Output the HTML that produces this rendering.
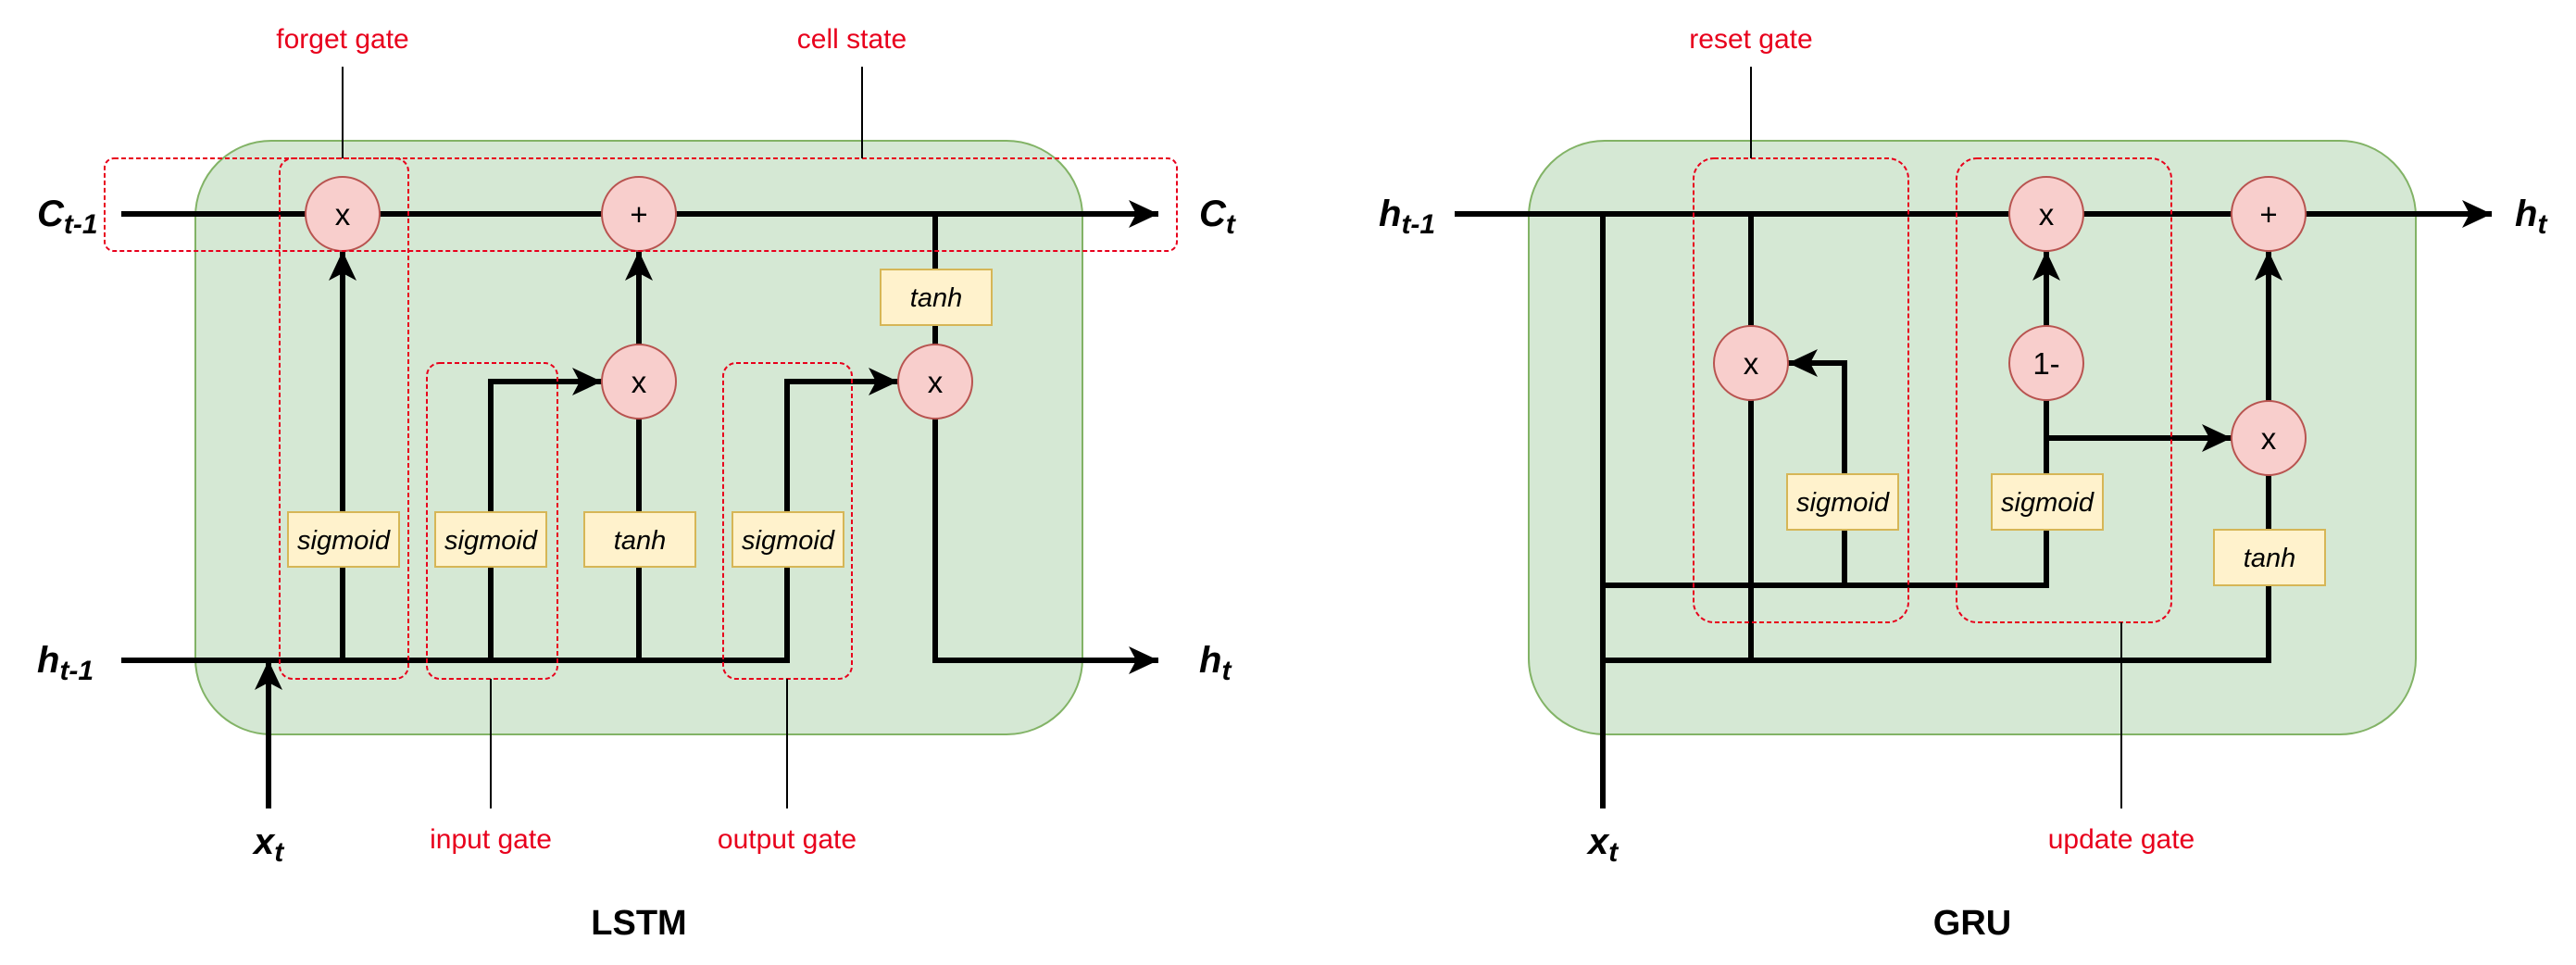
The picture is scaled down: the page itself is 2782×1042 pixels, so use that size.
<!DOCTYPE html>
<html><head><meta charset="utf-8"><style>
html,body{margin:0;padding:0;background:#fff;}
svg{display:block;}
text{font-family:"Liberation Sans",sans-serif;}
.lbl{font-size:40px;font-weight:bold;font-style:italic;fill:#000;}
.red{font-size:30px;fill:#e8001c;text-anchor:middle;}
.fn{font-size:29px;font-style:italic;text-anchor:middle;fill:#000;}
.op{font-size:33px;text-anchor:middle;fill:#000;}
.ttl{font-size:38px;font-weight:bold;text-anchor:middle;fill:#000;}
</style></head><body>
<svg width="2782" height="1042" viewBox="0 0 2782 1042" xmlns="http://www.w3.org/2000/svg">
<defs>
<marker id="a" markerUnits="userSpaceOnUse" markerWidth="34" markerHeight="32" refX="32" refY="15" orient="auto">
<path d="M0,0 L32,15 L0,30 L8,15 z" fill="#000"/>
</marker>
</defs>
<!-- LSTM -->
<rect x="211" y="152" width="958" height="641" rx="82" fill="#d5e8d4" stroke="#82b366" stroke-width="2"/>
<g fill="none" stroke="#000" stroke-width="6">
<line x1="131" y1="231" x2="1251" y2="231" marker-end="url(#a)"/>
<line x1="131" y1="713" x2="853" y2="713"/>
<line x1="370" y1="713" x2="370" y2="271" marker-end="url(#a)"/>
<line x1="690" y1="713" x2="690" y2="452"/>
<line x1="690" y1="372" x2="690" y2="271" marker-end="url(#a)"/>
<polyline points="530,713 530,412 650,412" marker-end="url(#a)"/>
<polyline points="850,716 850,412 970,412" marker-end="url(#a)"/>
<line x1="1010" y1="231" x2="1010" y2="372"/>
<polyline points="1010,452 1010,713 1251,713" marker-end="url(#a)"/>
<line x1="290" y1="873" x2="290" y2="713" marker-end="url(#a)"/>
</g>
<g fill="#fff2cc" stroke="#d6b656" stroke-width="2">
<rect x="311" y="553" width="120" height="59"/>
<rect x="470" y="553" width="120" height="59"/>
<rect x="631" y="553" width="120" height="59"/>
<rect x="791" y="553" width="120" height="59"/>
<rect x="951" y="291" width="120" height="60"/>
</g>
<text class="fn" x="371" y="593">sigmoid</text>
<text class="fn" x="530" y="593">sigmoid</text>
<text class="fn" x="691" y="593">tanh</text>
<text class="fn" x="851" y="593">sigmoid</text>
<text class="fn" x="1011" y="331">tanh</text>
<g fill="#f8cecc" stroke="#b85450" stroke-width="2">
<circle cx="370" cy="231" r="40"/><circle cx="690" cy="231" r="40"/>
<circle cx="690" cy="412" r="40"/><circle cx="1010" cy="412" r="40"/>
</g>
<text class="op" x="370" y="243">x</text><text class="op" x="690" y="243">+</text>
<text class="op" x="690" y="424">x</text><text class="op" x="1010" y="424">x</text>
<g fill="none" stroke="#e8001c" stroke-width="2" stroke-dasharray="5,3">
<rect x="113" y="171" width="1158" height="100" rx="10"/>
<rect x="302" y="171" width="139" height="562" rx="14"/>
<rect x="461" y="392" width="141" height="341" rx="14"/>
<rect x="781" y="392" width="139" height="341" rx="14"/>
</g>
<g stroke="#000" stroke-width="2">
<line x1="370" y1="72" x2="370" y2="171"/>
<line x1="931" y1="72" x2="931" y2="171"/>
<line x1="530" y1="733" x2="530" y2="873"/>
<line x1="850" y1="733" x2="850" y2="873"/>
</g>
<text class="red" x="370" y="52">forget gate</text>
<text class="red" x="920" y="52">cell state</text>
<text class="red" x="530" y="916">input gate</text>
<text class="red" x="850" y="916">output gate</text>
<text class="lbl" x="40" y="244">C<tspan font-size="30" dy="8">t-1</tspan></text>
<text class="lbl" x="1295" y="244">C<tspan font-size="30" dy="8">t</tspan></text>
<text class="lbl" x="40" y="726">h<tspan font-size="30" dy="8">t-1</tspan></text>
<text class="lbl" x="1295" y="726">h<tspan font-size="30" dy="8">t</tspan></text>
<text class="lbl" x="274" y="922">x<tspan font-size="30" dy="8">t</tspan></text>
<text class="ttl" x="690" y="1009">LSTM</text>

<!-- GRU -->
<rect x="1651" y="152" width="958" height="641" rx="82" fill="#d5e8d4" stroke="#82b366" stroke-width="2"/>
<g fill="none" stroke="#000" stroke-width="6">
<line x1="1571" y1="231" x2="2691" y2="231" marker-end="url(#a)"/>
<line x1="1731" y1="873" x2="1731" y2="228"/>
<line x1="1891" y1="231" x2="1891" y2="352"/>
<line x1="1891" y1="432" x2="1891" y2="713"/>
<polyline points="1728,632 2210,632 2210,432"/>
<polyline points="1992,632 1992,392 1931,392" marker-end="url(#a)"/>
<polyline points="1728,713 2450,713 2450,513"/>
<line x1="2210" y1="352" x2="2210" y2="271" marker-end="url(#a)"/>
<line x1="2450" y1="433" x2="2450" y2="271" marker-end="url(#a)"/>
<line x1="2210" y1="473" x2="2410" y2="473" marker-end="url(#a)"/>
</g>
<g fill="#fff2cc" stroke="#d6b656" stroke-width="2">
<rect x="1930" y="512" width="120" height="60"/>
<rect x="2151" y="512" width="120" height="60"/>
<rect x="2391" y="572" width="120" height="60"/>
</g>
<text class="fn" x="1990" y="552">sigmoid</text>
<text class="fn" x="2211" y="552">sigmoid</text>
<text class="fn" x="2451" y="612">tanh</text>
<g fill="#f8cecc" stroke="#b85450" stroke-width="2">
<circle cx="2210" cy="231" r="40"/><circle cx="2450" cy="231" r="40"/>
<circle cx="1891" cy="392" r="40"/><circle cx="2210" cy="392" r="40"/>
<circle cx="2450" cy="473" r="40"/>
</g>
<text class="op" x="2210" y="243">x</text><text class="op" x="2450" y="243">+</text>
<text class="op" x="1891" y="404">x</text><text class="op" x="2210" y="404">1-</text>
<text class="op" x="2450" y="485">x</text>
<g fill="none" stroke="#e8001c" stroke-width="2" stroke-dasharray="5,3">
<rect x="1829" y="171" width="232" height="501" rx="22"/>
<rect x="2113" y="171" width="232" height="501" rx="22"/>
</g>
<g stroke="#000" stroke-width="2">
<line x1="1891" y1="72" x2="1891" y2="171"/>
<line x1="2291" y1="672" x2="2291" y2="873"/>
</g>
<text class="red" x="1891" y="52">reset gate</text>
<text class="red" x="2291" y="916">update gate</text>
<text class="lbl" x="1489" y="244">h<tspan font-size="30" dy="8">t-1</tspan></text>
<text class="lbl" x="2716" y="244">h<tspan font-size="30" dy="8">t</tspan></text>
<text class="lbl" x="1715" y="922">x<tspan font-size="30" dy="8">t</tspan></text>
<text class="ttl" x="2130" y="1009">GRU</text>
</svg>
</body></html>
